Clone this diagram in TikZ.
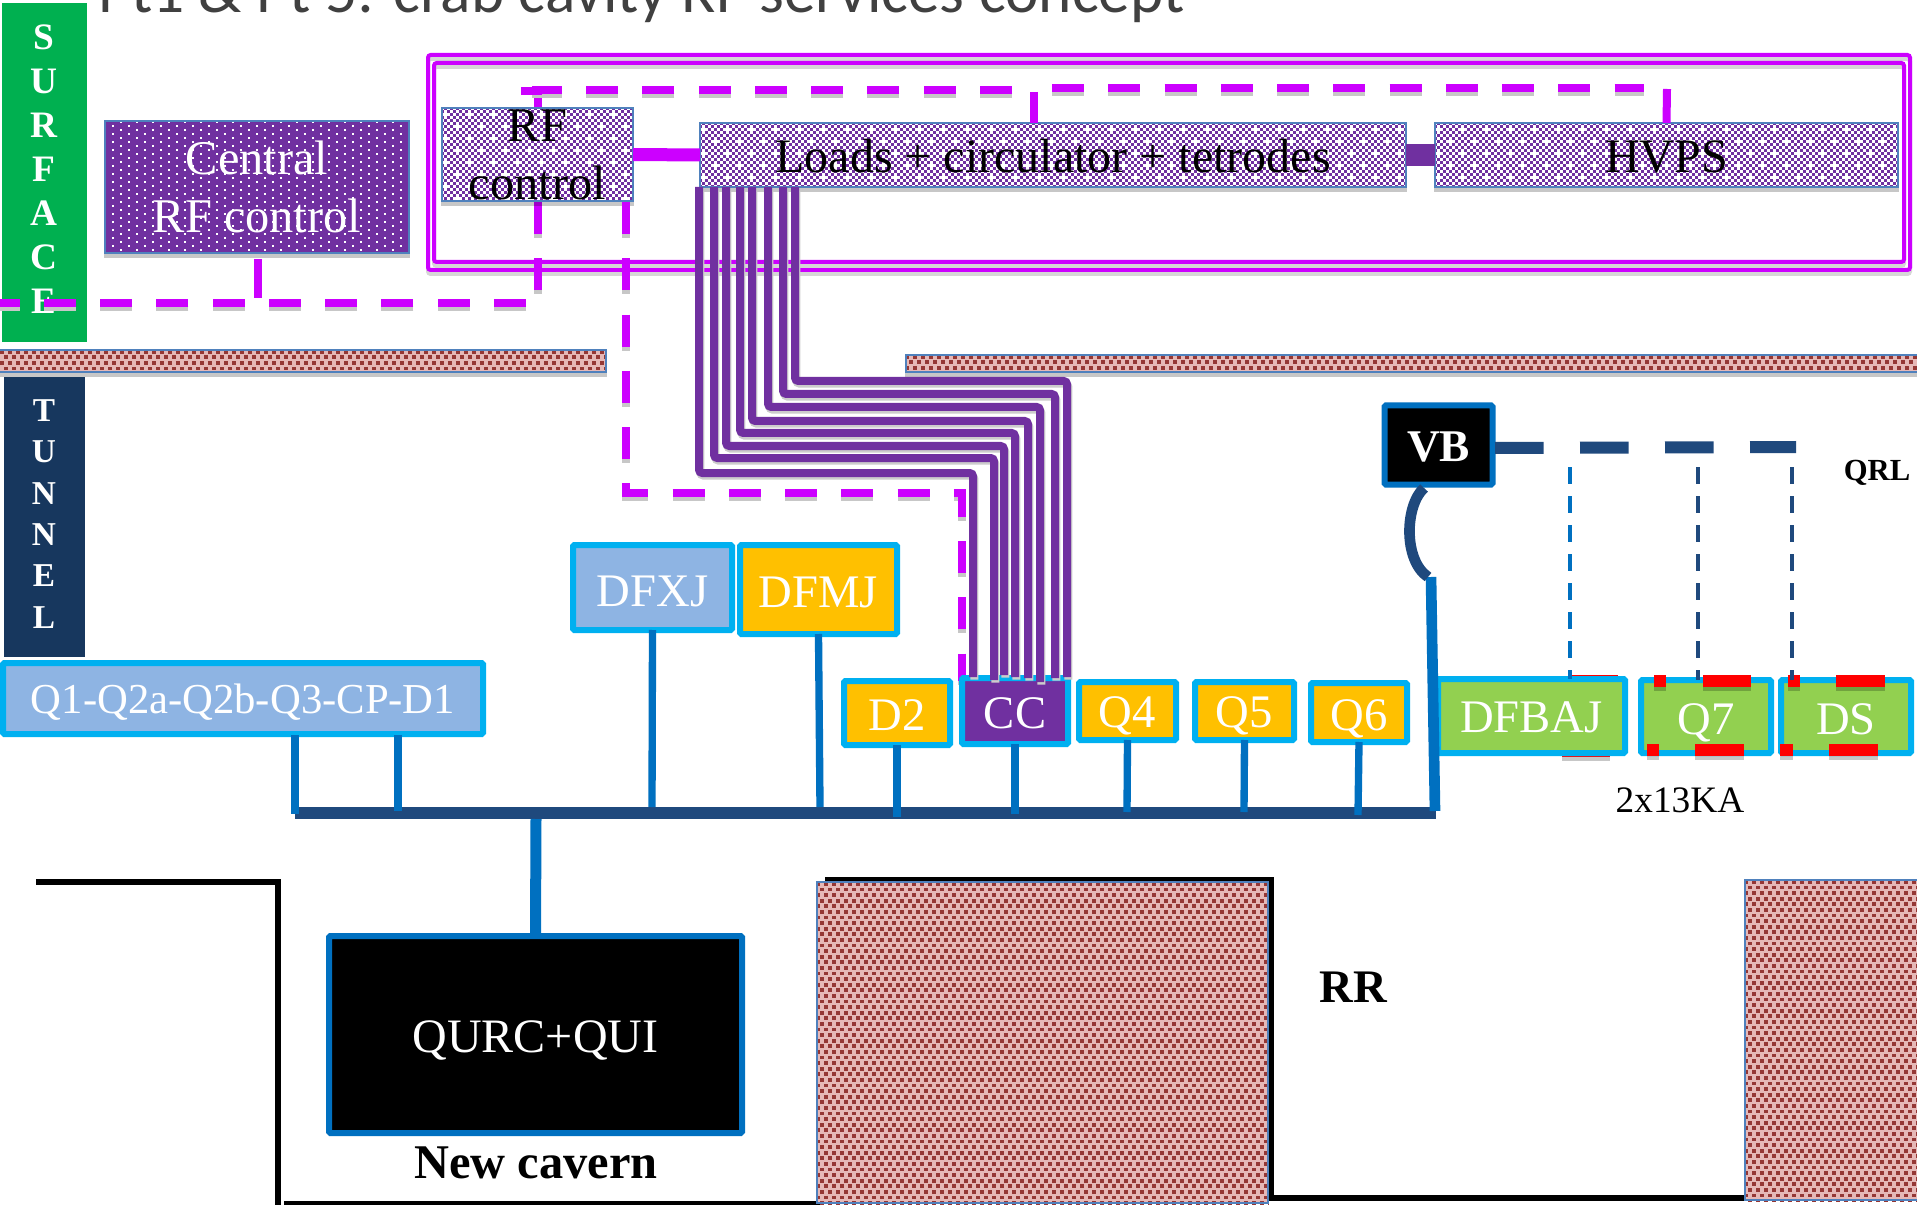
\documentclass[tikz,border=0pt]{standalone}
\usepackage{fontspec}
\setmainfont{Liberation Serif}
\newfontfamily\titlefont{Carlito}
\usetikzlibrary{shadows,calc}
\definecolor{cgreen}{HTML}{00B050}
\definecolor{cnavy}{HTML}{17375E}
\definecolor{cborder}{HTML}{00B0F0}
\definecolor{cstem}{HTML}{0070C0}
\definecolor{cbus}{HTML}{1F497D}
\definecolor{cmag}{HTML}{CC00FF}
\definecolor{cpurple}{HTML}{7030A0}
\definecolor{corange}{HTML}{FFC000}
\definecolor{clime}{HTML}{92D050}
\definecolor{clight}{HTML}{8EB4E3}
\definecolor{cpink}{HTML}{E6B8B7}
\definecolor{cbrick}{HTML}{953735}
\definecolor{cedge}{HTML}{4F81BD}
\definecolor{ctitle}{HTML}{404040}
\tikzset{
  fs/.style={font=\fontsize{#1}{#1}\selectfont},
  softshadow/.style={drop shadow={shadow xshift=0pt,shadow yshift=-3pt,opacity=.22,fill=black}},
  basebox/.style={rectangle,inner sep=0pt,outer sep=0pt,align=center,rounded corners=1pt},
  blue box/.style={basebox,draw=cborder,line width=4.5pt,text=white,fs=35},
  lightbox/.style={blue box,fill=clight},
  orangebox/.style={blue box,fill=corange},
  limebox/.style={blue box,fill=clime},
  ccbox/.style={blue box,fill=cpurple},
  blackbox/.style={basebox,draw=cstem,line width=4.5pt,fill=black,text=white},
  edgebox/.style={basebox,rounded corners=0pt,draw=cedge,line width=1.5pt},
  framebox/.style={basebox,draw=cmag,line width=3pt,rounded corners=2pt,preaction={draw=black!16,line width=3pt,transform canvas={yshift=-3pt}}},
  dashmag/.style={draw=cmag,line width=6pt,dash pattern=on 24pt off 18.2pt,preaction={draw=black!22,line width=6pt,dash pattern=on 24pt off 18.2pt,transform canvas={yshift=-3pt}}},
  solidmag/.style={draw=cmag,line width=6pt},
  wirelook/.style={draw=cpurple,line width=6pt,rounded corners=2.5pt},
  wireshadow/.style={draw=black!20,line width=6pt,rounded corners=2.5pt},
  stem/.style={draw=cstem,line width=5.5pt},
  busline/.style={draw=cbus,line width=9pt},
  thindash/.style={line width=3pt,dash pattern=on 12.75pt off 9pt},
  wallline/.style={draw=black,line width=4pt},
  redmark/.style={fill=red,softshadow},
  lbl/.style={inner sep=0pt,anchor=base},
}
% #1 inset, #2 style, #3 name, #4-#7 outer x1,y1,x2,y2, #8 baseline y, #9 text
\newcommand{\bx}[9][3]{%
  \pgfmathsetmacro\bxcx{(#4+#6)/2}\pgfmathsetmacro\bxcy{(#5+#7)/2}%
  \pgfmathsetmacro\bxw{(#6-#4-2*#1)*.75}\pgfmathsetmacro\bxh{(#7-#5-2*#1)*.75}%
  \pgfmathsetmacro\bxt{(#8-\bxcy)*1.5}%
  \node[#2,minimum width=\bxw pt,minimum height=\bxh pt,text height=\bxt pt,text depth=0pt] (#3) at (\bxcx,\bxcy) {#9};}
% box with auto-centred text
\newcommand{\bxp}[8][1]{%
  \pgfmathsetmacro\bxcx{(#4+#6)/2}\pgfmathsetmacro\bxcy{(#5+#7)/2}%
  \pgfmathsetmacro\bxw{(#6-#4-2*#1)*.75}\pgfmathsetmacro\bxh{(#7-#5-2*#1)*.75}%
  \node[#2,minimum width=\bxw pt,minimum height=\bxh pt] (#3) at (\bxcx,\bxcy) {#8};}
% staggered rows of dashes: x1,y1,x2,y2,row step,period,on,thickness,colour (pixels)
\newcommand{\dashrows}[9]{%
  \begin{scope}
  \clip (#1,#2) rectangle (#3,#4);
  \pgfmathtruncatemacro\rowN{(#4-#2)/#5}%
  \pgfmathsetmacro\rowOn{#7*.75}\pgfmathsetmacro\rowOff{(#6-#7)*.75}\pgfmathsetmacro\rowTh{#8*.75}%
  \foreach \r in {0,...,\rowN}{%
    \pgfmathsetmacro\rowY{#2+#5*(\r+.5)}%
    \pgfmathsetmacro\rowP{mod(\r,2)*#6*.375}%
    \draw[draw=#9,line width=\rowTh pt,dash pattern=on \rowOn pt off \rowOff pt,dash phase=\rowP pt] (#1,\rowY) -- (#3,\rowY);
  }
  \end{scope}}
% purple checker background
\newcommand{\checkerback}[4]{%
  \fill[cpurple,softshadow] (#1,#2) rectangle (#3,#4);
  \dashrows{#1}{#2}{#3}{#4}{3}{6}{3}{3}{white}
  \dashrows{#1+3}{#2+1.5}{#3}{#4}{12}{24}{3}{3}{white}}
% brick background
\newcommand{\brickback}[4]{%
  \dashrows{#1}{#2}{#3}{#4}{5.6}{8}{3.8}{3.8}{cbrick}}
\begin{document}
\begin{tikzpicture}[x=.75pt,y=-.75pt]
\useasboundingbox (0,0) rectangle (1917,1205);
\clip (0,0) rectangle (1917,1205);
\fill[white] (0,0) rectangle (1917,1205);
% title
\node[lbl,anchor=base west,text=ctitle] (title) at (98,13) {\titlefont\fontsize{47.5}{50}\selectfont Pt1 \& Pt 5: crab cavity RF services concept};
% cavern outline
\coordinate (ca) at (36,882); \coordinate (cb) at (278,882); \coordinate (cc1) at (278,1205);
\coordinate (cd) at (284,1203); \coordinate (ce) at (820,1203);
\coordinate (cf) at (825,880); \coordinate (cg) at (1271,880); \coordinate (ch) at (1271,1198); \coordinate (ci) at (1750,1198);
\draw[wallline,miter limit=2] (ca) -- (cb) -- (cc1);
\draw[wallline,line width=3pt] (cd) -- (ce);
\draw[wallline] (cf) -- (cg) -- (ch) -- (ci);
% rock
\fill[cpink,softshadow] (0,349) rectangle (607,373);
\brickback{0}{349}{607}{373}
\bxp{edgebox}{wall1}{-3}{349}{607}{373}{}
\fill[cpink,softshadow] (905,354) rectangle (1925,373);
\brickback{905}{354}{1925}{373}
\bxp{edgebox}{wall2}{905}{354}{1925}{373}{}
\fill[cpink] (816,881) rectangle (1269,1204);
\brickback{816}{881}{1269}{1204}
\bxp{edgebox}{rock1}{816}{881}{1269}{1204}{}
\fill[cpink] (1744,879) rectangle (1925,1201);
\brickback{1744}{879}{1925}{1201}
\bxp{edgebox}{rock2}{1744}{879}{1925}{1201}{}
% side labels
\bxp[0]{basebox,fill=cgreen,rounded corners=0pt}{surf}{2}{3}{87}{342}{}
\bxp[0]{basebox,fill=cnavy,rounded corners=0pt}{tunn}{4}{377}{85}{657}{}
\node[inner sep=0pt,align=center,text=white,font=\bfseries\fontsize{28}{33}\selectfont] (surftext) at (44,169) {S\\U\\R\\F\\A\\C\\E};
\node[inner sep=0pt,align=center,text=white,font=\bfseries\fontsize{25}{31}\selectfont] (tunntext) at (44,514) {T\\U\\N\\N\\E\\L};
% frame
\bxp[2]{framebox}{frameo}{426}{53}{1912}{272}{}
\bxp[2]{framebox}{framei}{432}{61}{1906}{264}{}
% dashed magenta network (behind boxes)
\coordinate (bla) at (526,303); \coordinate (blb) at (-19,303);
\coordinate (va) at (538,290); \coordinate (vb1) at (538,90);
\coordinate (ta) at (1012,90); \coordinate (tb) at (532,90);
\coordinate (tc) at (521,91); \coordinate (td) at (542,91);
\coordinate (te) at (1052,88); \coordinate (tf) at (1644,88);
\draw[dashmag] (bla) -- (blb);
\draw[dashmag] (va) -- (vb1);
\draw[dashmag] (ta) -- (tb);
\draw[solidmag] (tc) -- (td);
\draw[dashmag] (te) -- (tf);
% boxes on the surface
\fill[cpurple,softshadow] (104,120) rectangle (410,254);
\dashrows{104}{120}{410}{254}{4}{16}{2}{2}{white}
\bxp{edgebox,text=white,font=\fontsize{36.3}{43.5}\selectfont}{crf}{104}{120}{410}{254}{Central\\RF control}
\checkerback{441}{107}{634}{202}
\bxp{edgebox,font=\fontsize{36.3}{43.5}\selectfont}{rfctl}{441}{107}{634}{202}{RF\\control}
\checkerback{699}{122}{1407}{188}
\bx[1]{edgebox,fs=36}{loads}{699}{122}{1407}{188}{173}{Loads + circulator + tetrodes}
\checkerback{1434}{122}{1899}{188}
\bx[1]{edgebox,fs=36}{hvps}{1434}{122}{1899}{188}{173}{HVPS}
% stubs
\coordinate (s1) at (258,259); \coordinate (s2) at (258,298);
\coordinate (s3) at (1034,92); \coordinate (s4) at (1667,89);
\draw[solidmag] (s1) -- (s2);
\draw[solidmag] (s3) -- (s3 |- loads.north);
\draw[solidmag] (s4) -- (hvps.north);
\draw[draw=cmag,line width=9.75pt] (rfctl.east) -- (loads.west);
\draw[draw=cpurple,line width=16pt] (loads.east) -- (hvps.west);
% dashed RF control to CC
\coordinate (d0) at (626,202); \coordinate (d1) at (626,493); \coordinate (d2) at (962,493); \coordinate (d3) at (962,681);
\draw[dashmag,miter limit=2] (d0) -- (d1) -- (d2) -- (d3);
% tunnel equipment
\bx{lightbox,fs=32}{q1}{0}{660}{486}{737}{713}{Q1-Q2a-Q2b-Q3-CP-D1}
\bx{lightbox}{dfxj}{570}{542}{735}{633}{606}{DFXJ}
\bx{orangebox}{dfmj}{737}{542}{900}{637}{607}{DFMJ}
\bx{orangebox}{d2}{841}{678}{953}{748}{730}{D2}
\bx{ccbox}{cc}{959}{675}{1071}{747}{728}{CC}
\bx{orangebox}{q4}{1076}{679}{1179}{743}{727}{Q4}
\bx{orangebox}{q5}{1192}{679}{1297}{743}{727}{Q5}
\bx{orangebox}{q6}{1308}{680}{1410}{745}{730}{Q6}
% red marks behind DFBAJ
\fill[redmark] (1571,675) rectangle (1618,687);
\fill[redmark] (1562,744) rectangle (1610,757);
\bx{limebox}{dfbaj}{1435}{676}{1628}{756}{732}{DFBAJ}
\bx{limebox}{q7}{1638}{677}{1774}{756}{734}{Q7}
\bx{limebox}{ds}{1778}{677}{1914}{756}{734}{DS}
\fill[redmark] (1654,675) rectangle (1666,687);
\fill[redmark] (1703,675) rectangle (1751,687);
\fill[redmark] (1647,744) rectangle (1659,756);
\fill[redmark] (1695,744) rectangle (1744,756);
\fill[redmark] (1788,675) rectangle (1800,687);
\fill[redmark] (1836,675) rectangle (1885,687);
\fill[redmark] (1780,744) rectangle (1793,756);
\fill[redmark] (1829,744) rectangle (1878,756);
% purple wires from Loads to CC
\foreach \a/\b/\c/\d in {699/473/973/677,714/458/994/680,726/446/1004/675,740/433/1015/677,752/421/1028/678,768/407/1040/682,783/394/1055/678,795/381/1067/677}{
  \draw[wireshadow,transform canvas={xshift=1pt,yshift=-2pt}] (\a,188) -- (\a,\b) -- (\c,\b) -- (\c,\d);
}
\foreach \a/\b/\c/\d in {699/473/973/677,714/458/994/680,726/446/1004/675,740/433/1015/677,752/421/1028/678,768/407/1040/682,783/394/1055/678,795/381/1067/677}{
  \draw[wirelook] (\a,0 |- loads.south) -- (\a,\b) -- (\c,\b) -- (\c,\d);
}
% bus and stems
\coordinate (busa) at (295,813); \coordinate (busb) at (1436,813);
\coordinate (b1) at (295,814); \coordinate (b2) at (398,811);
\coordinate (b3) at (652,807); \coordinate (b4) at (820,807);
\coordinate (b5) at (897,817); \coordinate (b6) at (1015,814);
\coordinate (b7) at (1127,812); \coordinate (b8) at (1244,812); \coordinate (b9) at (1358,815);
\coordinate (b10) at (1435,811); \coordinate (b11) at (1431,577); \coordinate (qa) at (536,819);
\draw[busline] (busa) -- (busb);
\draw[stem] (b1 |- q1.south) ++(0,1) -- (b1);
\draw[stem] (b2 |- q1.south) ++(0,1) -- (b2);
\draw[stem] (dfxj.south) -- (b3);
\draw[stem] (dfmj.south) -- (b4);
\draw[stem] (d2.south) -- (b5);
\draw[stem] (cc.south) -- (b6);
\draw[stem] (q4.south) -- (b7);
\draw[stem] (q5.south) -- (b8);
\draw[stem] (q6.south) -- (b9);
\draw[stem,line width=8pt] (b11) -- (b10);
% QURC
\bx{blackbox,fs=36}{qurc}{326}{933}{745}{1136}{1052}{QURC+QUI}
\draw[stem,line width=8.25pt] (qa) -- (qurc.north);
% VB and QRL
\bx[2.5]{blackbox,font=\bfseries\fontsize{34}{34}\selectfont}{vb}{1382}{403}{1495}{487}{461}{VB}
\coordinate (cv1) at (1424,488); \coordinate (cv2) at (1428,577);
\draw[draw=cbus,line width=8pt] (cv1) .. controls (1405,505) and (1403,560) .. (cv2);
\coordinate (qrla) at (1495,448); \coordinate (qrlb) at (1796,447);
\draw[draw=cbus,line width=9pt,dash pattern=on 36.5pt off 27.25pt] (qrla) -- (qrlb);
\coordinate (t1) at (1570,467); \coordinate (t2) at (1698,467); \coordinate (t3) at (1792,467);
\draw[thindash,draw=cstem] (t1) -- (t1 |- dfbaj.north);
\draw[thindash,draw=cbus] (t2) -- (t2 |- q7.north);
\draw[thindash,draw=cbus] (t3) -- (t3 |- ds.north);
% free labels
\node[lbl,font=\bfseries\fontsize{23}{23}\selectfont] (qrl) at (1877,480) {QRL};
\node[lbl,font=\fontsize{28}{28}\selectfont] (amps) at (1680,812) {2x13KA};
\node[lbl,font=\bfseries\fontsize{36.3}{37}\selectfont] (newc) at (536,1178) {New cavern};
\node[lbl,font=\bfseries\fontsize{35}{35}\selectfont] (rr) at (1353,1002) {RR};
\end{tikzpicture}
\end{document}
